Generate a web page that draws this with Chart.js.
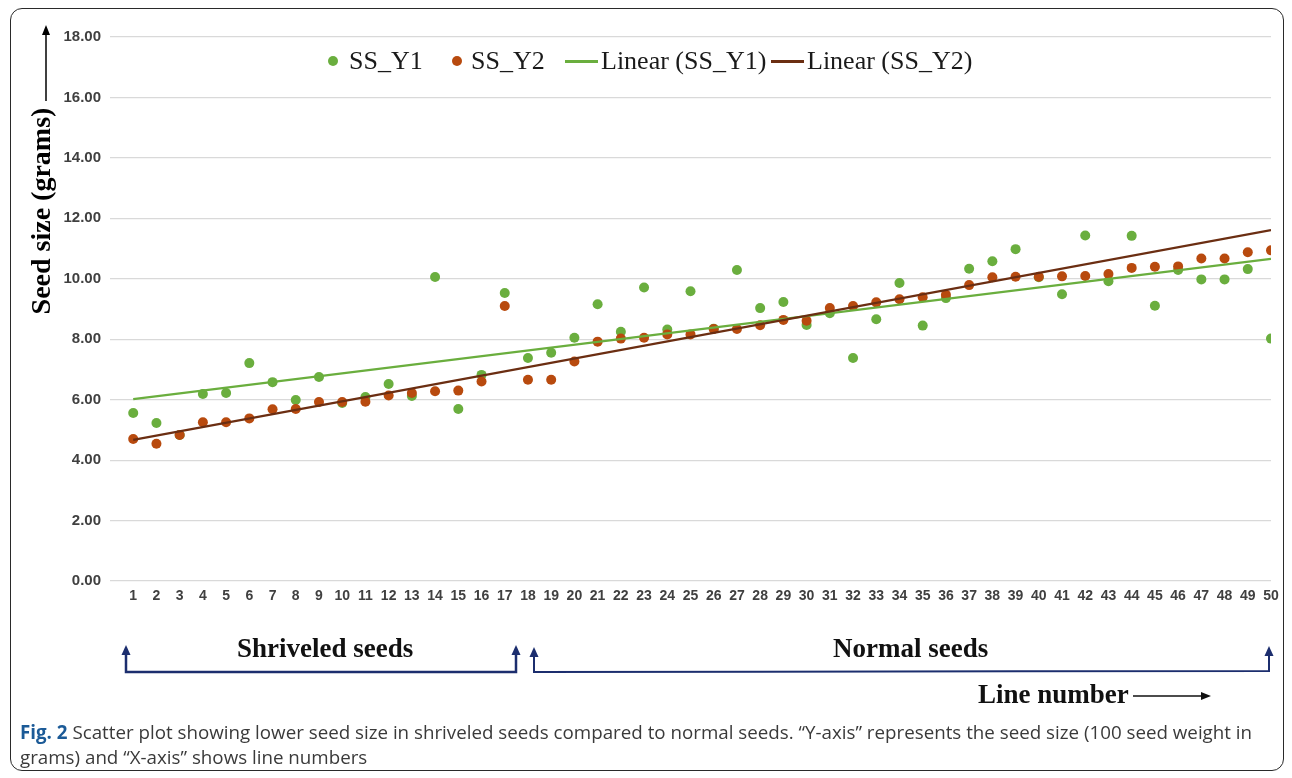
<!DOCTYPE html>
<html>
<head>
<meta charset="utf-8">
<title>Seed size scatter</title>
<script src="https://cdn.jsdelivr.net/npm/chart.js@4.4.1/dist/chart.umd.min.js"></script>
<style>
  body { margin: 0; background: #fff; }
  #wrap { position: relative; width: 1292px; height: 778px; overflow: hidden; }
  .frame {
    position: absolute; left: 10px; top: 8px; width: 1274px; height: 763px;
    border: 1.5px solid #2a2a2a; border-radius: 12px; box-sizing: border-box;
  }
  #box { position: absolute; left: 0; top: 0; width: 1292px; height: 620px; }
  #legend { position: absolute; left: 0; top: 44px; height: 34px; width: 1292px;
    font-family: "Liberation Serif", serif; font-size: 26px; color: #1a1a1a; }
  .item { position: absolute; top: 0; display: flex; align-items: center; height: 34px; white-space: nowrap; }
  .dot { width: 10px; height: 10px; border-radius: 50%; }
  .ln { width: 33px; height: 3px; margin-right: 3px; }
  svg { position: absolute; left: 0; top: 0; }
</style>
</head>
<body>
<div id="wrap">
  <div class="frame"></div>
  <div id="box"><canvas id="myChart"></canvas></div>
  <div id="legend"></div>
  <svg width="1292" height="778">
    <g stroke="#1c2e6e" fill="none" stroke-width="2.5">
      <path d="M126 652 L126 672 L516 672 L516 652" />
      <path d="M534 654 L534 672 L1269 671 L1269 652" stroke-width="2" />
    </g>
    <g fill="#1c2e6e">
      <path d="M126 645 L121.5 655 L130.5 655 Z" />
      <path d="M516 645 L511.5 655 L520.5 655 Z" />
      <path d="M534 647 L529.5 657 L538.5 657 Z" />
      <path d="M1269 646 L1264.5 656 L1273.5 656 Z" />
    </g>
    <g font-family="Liberation Serif" font-weight="bold" font-size="27" fill="#111">
      <text x="237" y="657">Shriveled seeds</text>
      <text x="833" y="657">Normal seeds</text>
      <text x="978" y="703">Line number</text>
    </g>
    <line x1="1133" y1="696" x2="1203" y2="696" stroke="#111" stroke-width="1.6" />
    <path d="M1211 696 L1201 692 L1201 700 Z" fill="#111" />
    <g font-family="Open Sans" font-size="18.75" fill="#3a3a3a">
      <text x="20" y="739"><tspan font-weight="bold" fill="#1b5a97">Fig. 2</tspan> Scatter plot showing lower seed size in shriveled seeds compared to normal seeds. “Y-axis” represents the seed size (100 seed weight in</text>
      <text x="20" y="764">grams) and “X-axis” shows line numbers</text>
    </g>
  </svg>
</div>
<script>
const lineNo = [];
for (let i = 1; i <= 50; i++) lineNo.push(i);

const ssY1 = [5.56, 5.23, 4.83, 6.19, 6.22, 7.21, 6.58, 5.99, 6.75, 5.89,
  6.09, 6.52, 6.12, 10.06, 5.69, 6.82, 9.53, 7.38, 7.55, 8.05,
  9.16, 8.25, 9.71, 8.32, 9.59, 8.35, 10.29, 9.03, 9.23, 8.47,
  8.86, 7.38, 8.66, 9.86, 8.45, 9.36, 10.33, 10.58, 10.98, 10.05,
  9.49, 11.43, 9.92, 11.42, 9.11, 10.29, 9.98, 9.98, 10.32, 8.02];

const ssY2 = [4.70, 4.54, 4.83, 5.25, 5.25, 5.38, 5.68, 5.69, 5.92, 5.92,
  5.93, 6.14, 6.22, 6.28, 6.30, 6.60, 9.10, 6.66, 6.66, 7.26,
  7.92, 8.02, 8.05, 8.16, 8.16, 8.34, 8.34, 8.46, 8.64, 8.61,
  9.03, 9.10, 9.22, 9.32, 9.39, 9.47, 9.79, 10.05, 10.07, 10.07,
  10.08, 10.09, 10.16, 10.36, 10.40, 10.41, 10.67, 10.67, 10.88, 10.94];

// trend line ends as printed in the figure (at line 1 and line 50)
const trendX = [1, 50];
const trendY1 = [6.02, 10.66];
const trendY2 = [4.67, 11.61];

const yTicks = [0, 2, 4, 6, 8, 10, 12, 14, 16, 18];

const green = "#6aae3e";
const brown = "#b84a0e";
const brownLine = "#6b2e12";

const pts = (xs, ys) => xs.map((x, i) => ({ x: x, y: ys[i] }));

const yTitle = {
  id: "yTitle",
  afterDraw(chart) {
    const ctx = chart.ctx;
    ctx.save();
    ctx.fillStyle = "#000";
    ctx.font = 'bold 28px "Liberation Serif"';
    ctx.textAlign = "center";
    ctx.textBaseline = "alphabetic";
    ctx.translate(50, 211);
    ctx.rotate(-Math.PI / 2);
    ctx.fillText("Seed size (grams)", 0, 0);
    ctx.restore();
    ctx.save();
    ctx.strokeStyle = "#000";
    ctx.fillStyle = "#000";
    ctx.lineWidth = 1.5;
    ctx.beginPath();
    ctx.moveTo(46, 101);
    ctx.lineTo(46, 32);
    ctx.stroke();
    ctx.beginPath();
    ctx.moveTo(46, 25);
    ctx.lineTo(42, 35);
    ctx.lineTo(50, 35);
    ctx.closePath();
    ctx.fill();
    ctx.restore();
  },
};

const ctx = document.getElementById("myChart");
const chart = new Chart(ctx, {
  type: "scatter",
  data: {
    datasets: [
      { label: "SS_Y1", data: pts(lineNo, ssY1), backgroundColor: green, borderWidth: 0, pointRadius: 5, order: 3 },
      { label: "SS_Y2", data: pts(lineNo, ssY2), backgroundColor: brown, borderWidth: 0, pointRadius: 5, order: 2 },
      { label: "Linear (SS_Y1)", type: "line", data: pts(trendX, trendY1), borderColor: green, borderWidth: 2.2, pointRadius: 0, order: 1 },
      { label: "Linear (SS_Y2)", type: "line", data: pts(trendX, trendY2), borderColor: brownLine, borderWidth: 2.2, pointRadius: 0, order: 0 },
    ],
  },
  options: {
    responsive: true,
    maintainAspectRatio: false,
    animation: false,
    layout: { padding: { top: 37, right: 21, bottom: 9, left: 0 } },
    plugins: {
      legend: { display: false },
      tooltip: { enabled: false },
    },
    scales: {
      x: {
        type: "linear",
        min: 0,
        max: 50,
        afterBuildTicks: (s) => { s.ticks = lineNo.map((v) => ({ value: v })); },
        afterFit: (s) => { s.height = 30; },
        ticks: {
          autoSkip: false, maxRotation: 0, padding: 7,
          color: "#404040",
          font: { family: "Liberation Sans", size: 14, weight: "bold" },
        },
        grid: { display: false, drawTicks: false },
        border: { display: false },
      },
      y: {
        min: 0,
        max: 18,
        afterBuildTicks: (s) => { s.ticks = yTicks.map((v) => ({ value: v })); },
        afterFit: (s) => { s.width = 110; },
        ticks: {
          padding: 9,
          color: "#404040",
          font: { family: "Liberation Sans", size: 15, weight: "bold" },
          callback: (v) => v.toFixed(2),
        },
        grid: { color: "#d9d9d9", lineWidth: 1.2, drawTicks: false },
        border: { display: false },
      },
    },
  },
  plugins: [yTitle],
});

// legend placed inside the plot, as in the source figure
const legendX = [328, 452, 565, 771];
const lg = document.getElementById("legend");
chart.data.datasets.forEach((ds, i) => {
  const it = document.createElement("div");
  it.className = "item";
  it.style.left = legendX[i] + "px";
  const mk = document.createElement("span");
  if (ds.type === "line") {
    mk.className = "ln";
    mk.style.background = ds.borderColor;
  } else {
    mk.className = "dot";
    mk.style.background = ds.backgroundColor;
    mk.style.marginRight = i === 0 ? "11px" : "9px";
  }
  const tx = document.createElement("span");
  tx.textContent = ds.label;
  it.appendChild(mk);
  it.appendChild(tx);
  lg.appendChild(it);
});
</script>
</body>
</html>
